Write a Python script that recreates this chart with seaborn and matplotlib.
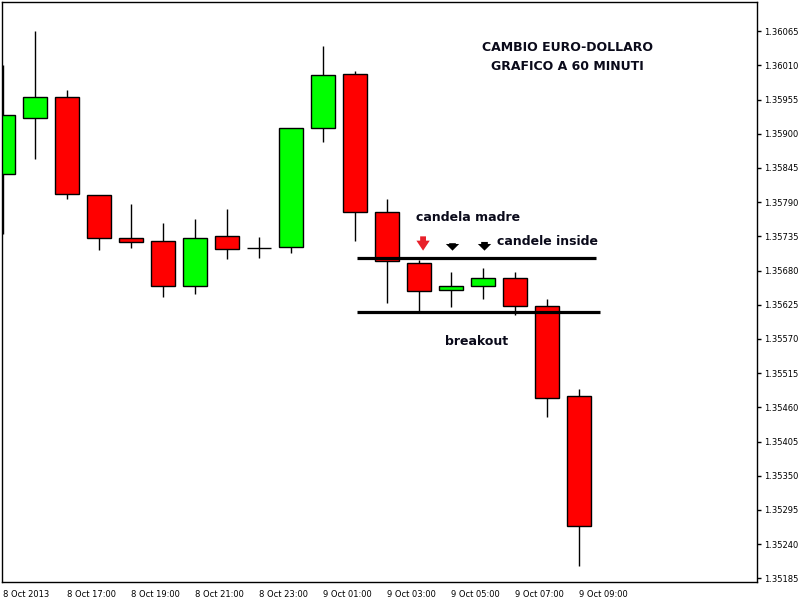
"""Grafico a candele EUR/USD 60 minuti con candela madre e candele inside."""

import matplotlib

matplotlib.use("Agg")
import matplotlib.pyplot as plt
import numpy as np
import seaborn as sns

# dati OHLC (candele orarie, 8 Oct 15:00 -> 9 Oct 09:00)
opens = [1.35835, 1.35925, 1.35959, 1.35801, 1.35732, 1.35727, 1.35655, 1.35735, 1.35716, 1.35718,
         1.35909, 1.35996, 1.35774, 1.35692, 1.35648, 1.35655, 1.35668, 1.35623, 1.35478]
highs = [1.36010, 1.36065, 1.35970, 1.35801, 1.35787, 1.35756, 1.35763, 1.35779, 1.35734, 1.35909,
         1.36041, 1.36001, 1.35795, 1.35697, 1.35677, 1.35684, 1.35677, 1.35635, 1.35489]
lows = [1.35738, 1.35859, 1.35795, 1.35713, 1.35716, 1.35637, 1.35642, 1.35698, 1.35700, 1.35709,
        1.35886, 1.35727, 1.35627, 1.35613, 1.35621, 1.35635, 1.35608, 1.35444, 1.35204]
closes = [1.35930, 1.35959, 1.35803, 1.35732, 1.35726, 1.35655, 1.35732, 1.35714, 1.35716, 1.35909,
          1.35994, 1.35774, 1.35695, 1.35647, 1.35655, 1.35668, 1.35623, 1.35475, 1.35269]

x_labels = ["8 Oct 2013", "8 Oct 17:00", "8 Oct 19:00", "8 Oct 21:00", "8 Oct 23:00",
            "9 Oct 01:00", "9 Oct 03:00", "9 Oct 05:00", "9 Oct 07:00", "9 Oct 09:00"]
y_ticks = [1.36065 - 0.00055 * k for k in range(17)]

# livelli della candela madre
level_high = 1.35700
level_low = 1.35613
mother_idx = 12
first_inside = 13
inside_idx = [14, 15]

UP = "#00ff00"
DOWN = "#ff0000"

sns.set_theme(style="white")
plt.rcParams["font.family"] = ["DejaVu Sans"]

fig = plt.figure(figsize=(8, 6), dpi=100)
ax = fig.add_axes([0.0025, 0.03, 0.9435, 0.9667])

o = np.array(opens)
h = np.array(highs)
l = np.array(lows)
c = np.array(closes)
idx = np.arange(len(o))
width = 0.75

# stoppini
ax.vlines(idx, l, h, color="black", linewidth=1, zorder=1)

# corpi
for i in idx:
    if o[i] == c[i]:
        ax.hlines(o[i], i - width / 2, i + width / 2, color="black", linewidth=1, zorder=2)
        continue
    color = UP if c[i] > o[i] else DOWN
    ax.bar(i, abs(c[i] - o[i]), bottom=min(o[i], c[i]), width=width,
           color=color, edgecolor="black", linewidth=1, zorder=2)

# linee orizzontali dei livelli
ax.hlines(level_high, mother_idx - 0.94, len(o) - 0.47, color="black", linewidth=2.3, zorder=3)
ax.hlines(level_low, mother_idx - 0.94, len(o) - 0.34, color="black", linewidth=2.3, zorder=3)

# frecce
ax.annotate("", xy=(first_inside + 0.13, 1.35712), xytext=(first_inside + 0.13, 1.35735),
            arrowprops=dict(arrowstyle="simple,head_width=0.8,head_length=0.6,tail_width=0.35",
                            color="#e8202a", lw=0, shrinkA=0, shrinkB=0))
for i, top in zip(inside_idx, [1.35724, 1.35726]):
    ax.annotate("", xy=(i + 0.05, 1.35712), xytext=(i + 0.05, top),
                arrowprops=dict(arrowstyle="simple,head_width=0.8,head_length=0.4,tail_width=0.4",
                                color="black", lw=0, shrinkA=0, shrinkB=0))

# testi
txt = dict(fontsize=9, fontweight="bold", color="#0a0a1a")
ax.text(17.65, 1.36039, "CAMBIO EURO-DOLLARO", ha="center", va="center", **txt)
ax.text(17.65, 1.36009, "GRAFICO A 60 MINUTI", ha="center", va="center", **txt)
ax.text(12.9, 1.35766, "candela madre", ha="left", va="center", **txt)
ax.text(15.44, 1.35726, "candele inside", ha="left", va="center", **txt)
ax.text(13.81, 1.35566, "breakout", ha="left", va="center", **txt)

# assi
ax.set_xlim(-0.03, 23.56)
ax.set_ylim(1.35179, 1.36112)
ax.set_xticks(idx[::2])
ax.set_xticklabels(x_labels, ha="left")
ax.set_yticks(y_ticks)
ax.set_yticklabels([f"{v:.5f}" for v in y_ticks])
ax.yaxis.tick_right()
ax.tick_params(axis="both", direction="out", length=3, width=1, color="black",
               labelsize=6, labelcolor="black", pad=2)
ax.tick_params(axis="x", pad=3)
ax.tick_params(axis="y", left=False, right=True)
for side in ["left", "right", "top", "bottom"]:
    ax.spines[side].set_visible(True)
    ax.spines[side].set_color("black")
    ax.spines[side].set_linewidth(1)
ax.grid(False)

fig.savefig("out.png", dpi=100, facecolor="white")
